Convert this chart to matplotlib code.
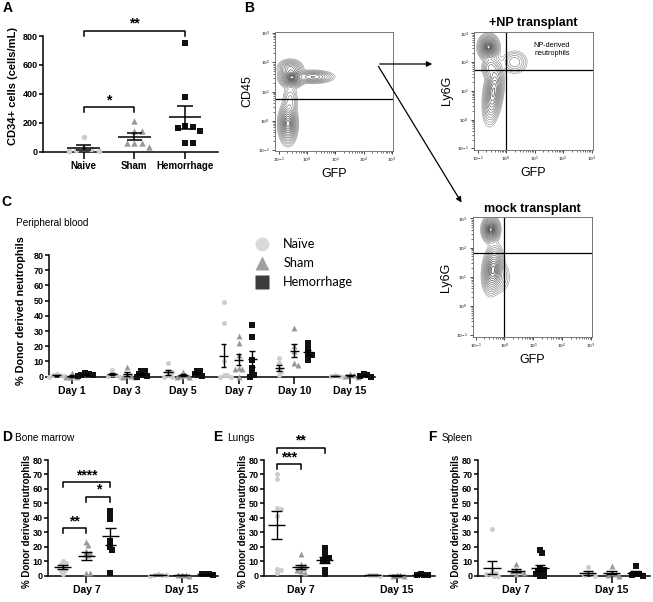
import numpy as np
import matplotlib
matplotlib.use("Agg")
import matplotlib.pyplot as plt
from matplotlib.lines import Line2D
from matplotlib.patches import FancyArrowPatch

W, H = 653, 602
plt.rcParams['font.family'] = ['Liberation Sans', 'DejaVu Sans']

# ---------------- data ----------------
# panel A: CD34+ cells (cells/mL)
a_groups = ['Naive', 'Sham', 'Hemorrhage']
a_naive = [100, 25, 20, 15, 5, 5]
a_sham = [215, 145, 145, 62, 62, 62, 30]
a_hem = [750, 380, 178, 169, 162, 145, 58, 58]

# panel C: peripheral blood, % donor derived neutrophils per day
c_days = ['Day 1', 'Day 3', 'Day 5', 'Day 7', 'Day 10', 'Day 15']
c_naive = [[2, 1, 1, 0.5, 0], [4.5, 2, 1, 0.5, 0], [9, 4, 3, 1, 0, 0],
           [49, 35, 10, 1, 1, 0, 0], [12, 9, 5, 3, 1], [1, 0.5, 0.5, 0]]
c_sham = [[2.6, 0.5, 0, 0, 0], [6.6, 1, 0.5, 0, 0], [3, 1, 0.5, 0, 0],
          [27, 22, 14, 6, 5, 5, 0], [32, 20, 17, 9, 8], [2, 1, 0.5, 0]]
c_hem = [[2.5, 2, 1, 1, 0.5], [4, 3.5, 2, 1, 0.5, 0], [4, 3.5, 2, 1, 0.5],
         [34, 26, 11, 6, 3, 1, 0], [22, 18, 15, 14, 11], [1.5, 1, 0.5, 0]]

# panels D-F: tissues at day 7 and day 15
dfx_days = ['Day 7', 'Day 15']
d_naive = [[10, 9, 8, 6, 4, 3, 1], [1, 0.5, 0.5, 0.3, 0]]
d_sham = [[23, 21, 17, 16, 15, 14, 2, 2], [0.5, 0.3, 0.2, 0]]
d_hem = [[45, 42, 39, 24, 20, 18, 2], [1.5, 1, 1, 0.5]]

e_naive = [[70, 67, 47, 46, 41, 4.4, 3.7, 1.6], [0.5, 0.3, 0.2, 0]]
e_sham = [[15, 8, 7, 6, 5, 4, 3, 2], [0.3, 0.2, 0.1, 0]]
e_hem = [[19, 16, 13, 12, 11, 10, 4, 1], [1, 0.8, 0.5, 0.3]]

f_naive = [[32, 3, 2, 1, 1, 0, 0], [6, 2, 1, 0.5, 0]]
f_sham = [[8, 4, 3, 3, 2, 1], [7, 2, 1, 0.5, 0]]
f_hem = [[18, 16, 5, 4, 3, 2, 1, 0, 0], [7, 1.5, 1, 0.5, 0]]

# flow plots: density blobs in log10 units (cx, cy, sx, sy, rho, weight)
b_blobs = [(-0.55, 1.48, 0.17, 0.13, 0.0, 1.0),
           (0.2, 1.5, 0.3, 0.09, 0.0, 0.35),
           (-0.6, 1.8, 0.18, 0.12, 0.0, 0.35),
           (-0.68, -0.1, 0.13, 0.27, 0.0, 0.85),
           (-0.6, 0.7, 0.12, 0.25, 0.0, 0.1)]
np_blobs = [(-0.62, 2.52, 0.14, 0.17, 0.0, 1.0),
            (-0.45, 0.95, 0.14, 0.42, 0.35, 0.7),
            (0.3, 2.0, 0.2, 0.18, 0.0, 0.12),
            (-0.55, 1.8, 0.13, 0.17, 0.0, 0.2)]
mock_blobs = [(-0.47, 2.62, 0.12, 0.17, 0.0, 1.0),
              (-0.4, 1.25, 0.14, 0.32, 0.2, 0.8),
              (-0.2, 1.0, 0.18, 0.25, 0.0, 0.1)]

group_names = ['Naïve', 'Sham', 'Hemorrhage']
markers = ['o', '^', 's']
colors = ['#cdcdcd', '#999999', '#111111']
sizes = [13, 18, 13]

fig = plt.figure(figsize=(W / 100, H / 100), dpi=100)


def px_axes(l, t, r, b):
    ax = fig.add_axes([l / W, 1 - b / H, (r - l) / W, (b - t) / H])
    ax.patch.set_visible(False)
    return ax


def swarm(vals, xs, ys, d):
    # simple beeswarm in pixel space, returns x offsets in data units
    placed, offs = [], []
    cands = [0.0]
    for i in range(1, 30):
        cands += [i * d * 0.5, -i * d * 0.5]
    for v in vals:
        py = v * ys
        for c in cands:
            if all((c - qx) ** 2 + (py - qy) ** 2 >= (d * 0.9) ** 2 for qx, qy in placed):
                break
        placed.append((c, py))
        offs.append(c / xs)
    return np.array(offs)


def mean_sem(ax, x, vals, hw, cw, lw=1.0):
    m = np.mean(vals)
    s = np.std(vals, ddof=1) / np.sqrt(len(vals))
    kw = dict(color='k', lw=lw, zorder=5, clip_on=False)
    ax.hlines(m, x - hw, x + hw, **kw)
    ax.vlines(x, m - s, m + s, **kw)
    ax.hlines([m - s, m + s], x - cw, x + cw, **kw)


def style_dots(ax, xlim, ymax, ystep, xticks, xlabels, xfs, yfs):
    ax.set_xlim(*xlim)
    ax.set_ylim(0, ymax)
    ax.spines[['top', 'right']].set_visible(False)
    ax.spines['left'].set_linewidth(1.1)
    ax.spines['bottom'].set_linewidth(1.1)
    ax.set_yticks(np.arange(0, ymax + 1, ystep))
    ax.set_xticks(xticks)
    ax.set_xticklabels(xlabels, fontweight='bold', fontsize=xfs)
    ax.tick_params(axis='y', length=3, width=1.1, labelsize=yfs, pad=1)
    ax.tick_params(axis='x', length=5, width=1.1, pad=1.5)
    for t in ax.get_yticklabels():
        t.set_fontweight('bold')


def bracket(ax, x0, x1, y, leg, text, fs=10):
    ax.plot([x0, x0, x1, x1], [y - leg, y, y, y - leg], color='k', lw=1.1, clip_on=False)
    ax.text((x0 + x1) / 2, y, text, ha='center', va='bottom', fontsize=fs,
            fontweight='bold', clip_on=False)


def dot_groups(ax, series, offsets, xs, ys, hw, cw, d=3.8):
    for g, vals_by_day in enumerate(series):
        for k, vals in enumerate(vals_by_day):
            x0 = k + offsets[g]
            off = swarm(vals, xs, ys, d)
            ax.scatter(x0 + off, vals, marker=markers[g], s=sizes[g], color=colors[g],
                       linewidths=0, zorder=3, clip_on=False)
            mean_sem(ax, x0, vals, hw, cw)


# ---------------- panel A ----------------
axA = px_axes(43, 36, 218, 151.7)
xlimA = (-0.8, 2.65)
xsA = 175 / (xlimA[1] - xlimA[0])
ysA = 115.7 / 800
for g, vals in enumerate([a_naive, a_sham, a_hem]):
    off = swarm(vals, xsA, ysA, 7.5)
    axA.scatter(g + off, vals, marker=markers[g], s=sizes[g] + 3, color=colors[g],
                linewidths=0, zorder=3, clip_on=False)
    mean_sem(axA, g, vals, 0.32, 0.15, 1.1)
style_dots(axA, xlimA, 800, 200, [0, 1, 2], a_groups, 7, 6.5)
axA.set_ylabel('CD34+ cells (cells/mL)', fontsize=8, fontweight='bold', va='center')
axA.yaxis.set_label_coords(-0.17, 0.57)
bracket(axA, 0, 2, 835, 35, '**')
bracket(axA, 0, 1, 309, 35, '*')

# ---------------- panel C ----------------
axC = px_axes(49.3, 255, 375, 376.7)
xlimC = (-0.4, 5.45)
xsC = (375 - 49.3) / (xlimC[1] - xlimC[0])
ysC = 121.7 / 80
dot_groups(axC, [c_naive, c_sham, c_hem], [-0.27, 0, 0.245], xsC, ysC, 0.085, 0.05)
style_dots(axC, xlimC, 80, 10, range(6), c_days, 7.5, 6.5)
axC.set_ylabel('% Donor derived neutrophils', fontsize=7.8, fontweight='bold', va='center')
axC.yaxis.set_label_coords(-0.088, 0.54)

handles = [Line2D([], [], ls='', marker='o', ms=10, mfc='#d9d9d9', mec='none'),
           Line2D([], [], ls='', marker='^', ms=10.5, mfc='#a0a0a0', mec='none'),
           Line2D([], [], ls='', marker='s', ms=10, mfc='#3c3c3c', mec='none')]
fig.legend(handles, group_names, loc='upper left', bbox_to_anchor=(252 / W, 1 - 238 / H),
           frameon=False, prop={'family': 'Lato', 'size': 9.2}, borderpad=0,
           borderaxespad=0, handlelength=1.5, handletextpad=0.95, labelspacing=0.55)

# ---------------- panels D, E, F ----------------
tissue = [
    ('D', 'Bone marrow', (48.3, 218), (-0.40, 1.38), [d_naive, d_sham, d_hem], 7, 15),
    ('E', 'Lungs', (264.3, 435), (-0.38, 1.40), [e_naive, e_sham, e_hem], 218, 226.7),
    ('F', 'Spleen', (477.7, 650), (-0.40, 1.40), [f_naive, f_sham, f_hem], 432, 441.7),
]
tissue_axes = {}
for letter, name, (l, r), xl, series, lx, nx in tissue:
    ax = px_axes(l, 460, r, 575.7)
    xs = (r - l) / (xl[1] - xl[0])
    ys = 115.7 / 80
    dot_groups(ax, series, [-0.25, 0, 0.25], xs, ys, 0.09, 0.055)
    style_dots(ax, xl, 80, 10, [0, 1], dfx_days, 7.5, 6.5)
    ax.set_ylabel('% Donor derived neutrophils', fontsize=7, fontweight='bold', va='center')
    ax.yaxis.set_label_coords(-21.5 / (r - l), 0.47)
    fig.text(lx / W, 1 - 437 / H, letter, fontsize=10, fontweight='bold', ha='center', va='center')
    fig.text(nx / W, 1 - 438 / H, name, fontsize=7.2, ha='left', va='center')
    tissue_axes[letter] = ax

axD, axE = tissue_axes['D'], tissue_axes['E']
bracket(axD, -0.25, 0.25, 64.6, 3.6, '****')
bracket(axD, 0, 0.25, 54.6, 3.6, '*')
bracket(axD, -0.25, 0, 32.8, 3.5, '**')
bracket(axE, -0.25, 0.25, 88.5, 3.5, '**')
bracket(axE, -0.25, 0, 77, 3.5, '***')


# ---------------- flow panels ----------------
def flow_panel(box, blobs, xlim, ylim, gate_x, gate_y, xlabel, ylabel, title=None):
    ax = px_axes(*box)
    gx = np.linspace(xlim[0], xlim[1], 300)
    gy = np.linspace(ylim[0], ylim[1], 300)
    X, Y = np.meshgrid(gx, gy)
    Z = np.zeros_like(X)
    for cx, cy, sx, sy, rho, w in blobs:
        u = (X - cx) / sx
        v = (Y - cy) / sy
        Z += w * np.exp(-0.5 * (u * u - 2 * rho * u * v + v * v) / (1 - rho * rho))
    # rings roughly evenly spaced in distance from the peaks
    r = np.linspace(3.0, 0.35, 15)
    levels = Z.max() * np.exp(-0.5 * r ** 2)
    cols = plt.cm.Greys(np.linspace(0.5, 0.95, len(levels)))
    ax.contour(X, Y, Z, levels=levels, colors=cols, linewidths=0.42)
    ax.set_xlim(*xlim)
    ax.set_ylim(*ylim)
    if gate_x is not None:
        ax.axvline(gate_x, color='k', lw=0.9)
    ax.axhline(gate_y, color='k', lw=0.9)
    for s in ax.spines.values():
        s.set_linewidth(0.7)
        s.set_color('#777777')
    dec = np.arange(-1, 4)
    minor = [k + np.log10(m) for k in range(-1, 3) for m in range(2, 10)]
    for axis in (ax.xaxis, ax.yaxis):
        axis.set_ticks(dec)
        axis.set_ticklabels([f'$10^{{{k}}}$' for k in dec])
        axis.set_ticks(minor, minor=True)
    ax.tick_params(which='major', length=2.2, width=0.5, labelsize=3.2, pad=1.5)
    ax.tick_params(which='minor', length=1.2, width=0.4)
    ax.set_xlabel(xlabel, fontsize=9, labelpad=2)
    ax.set_ylabel(ylabel, fontsize=9, labelpad=3)
    if title:
        ax.set_title(title, fontsize=9, fontweight='bold', pad=4)
    return ax


axB = flow_panel((275, 32, 393, 151), b_blobs, (-1.14, 3.04), (-1.03, 3.03),
                 None, 0.75, 'GFP', 'CD45')
axNP = flow_panel((474, 31.7, 593, 150), np_blobs, (-1.13, 3.05), (-1.06, 3.06),
                  0.0, 1.72, 'GFP', 'Ly6G', '+NP transplant')
axNP.text(1.6, 2.45, 'NP-derived\nneutrophils', fontsize=5.2, ha='center', va='center')
axMock = flow_panel((472.7, 217.3, 592.3, 336.7), mock_blobs, (-1.1, 3.05), (-1.05, 3.04),
                    0.0, 1.8, 'GFP', 'Ly6G', 'mock transplant')

# arrows between flow plots
for end in [(435, 64), (463, 205)]:
    fig.patches.append(FancyArrowPatch((377 / W, 1 - 64 / H), (end[0] / W, 1 - end[1] / H),
                                       transform=fig.transFigure, arrowstyle='-|>',
                                       mutation_scale=8, lw=0.9, color='k'))

# panel letters and subtitles
for letter, x, y in [('A', 7.5, 8), ('B', 249, 7.5), ('C', 6, 202.5)]:
    fig.text(x / W, 1 - y / H, letter, fontsize=10, fontweight='bold', ha='center', va='center')
fig.text(16 / W, 1 - 223 / H, 'Peripheral blood', fontsize=7.2, ha='left', va='center')

fig.savefig('out.png', dpi=100)
